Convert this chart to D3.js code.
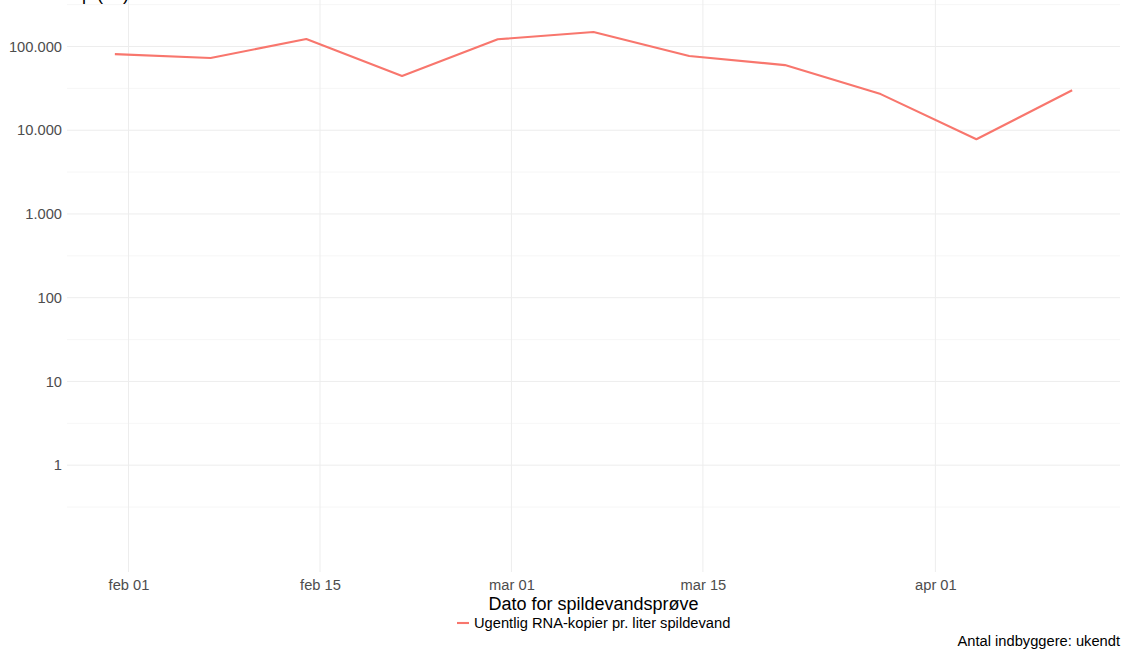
<!DOCTYPE html>
<meta charset="utf-8">
<style>

body { margin: 0; background: #fff; }
text { font-family: "Liberation Sans", Arial, sans-serif; }
.tick text { fill: #4d4d4d; font-size: 14.7px; }

</style>
<svg width="1125" height="655"></svg>
<script src="https://cdn.jsdelivr.net/npm/d3@7"></script>
<script>

// weekly samples (2023)
var sampleDates = ["2023-01-31", "2023-02-07", "2023-02-14", "2023-02-21", "2023-02-28",
                   "2023-03-07", "2023-03-14", "2023-03-21", "2023-03-28", "2023-04-04", "2023-04-11"];
var rnaCopies = [81000, 73000, 123000, 44500, 122000, 149000, 77000, 60000, 27000, 7800, 30000];

var yTicks = [1, 10, 100, 1000, 10000, 100000];
var yMinor = [0.316, 3.16, 31.6, 316, 3160, 31600, 316000];
var xTickDates = ["2023-02-01", "2023-02-15", "2023-03-01", "2023-03-15", "2023-04-01"];
var xTickLabels = ["feb 01", "feb 15", "mar 01", "mar 15", "apr 01"];

var seriesName = "Ugentlig RNA-kopier pr. liter spildevand";

var svg = d3.select("svg"),
    pLeft = 67, pRight = 1120, pTop = 2, pBottom = 572;

var parse = d3.utcParse("%Y-%m-%d");
var data = sampleDates.map(function(d, i) { return {date: parse(d), value: rnaCopies[i]}; });

// ggplot style 5% expansion on the date range
var ext = d3.extent(data, function(d) { return d.date; }),
    pad = (ext[1] - ext[0]) * 0.05;

var x = d3.scaleUtc()
    .domain([new Date(+ext[0] - pad), new Date(+ext[1] + pad)])
    .range([pLeft, pRight]);

var y = d3.scaleLog()
    .domain([0.053, 340000])
    .range([pBottom, pTop]);

var da = d3.formatLocale({decimal: ",", thousands: ".", grouping: [3], currency: ["", " kr"]});
var fmt = da.format(",d");

// grid
svg.append("g").selectAll("line")
  .data(yMinor)
  .enter().append("line")
    .attr("x1", pLeft).attr("x2", pRight)
    .attr("y1", function(d) { return y(d); })
    .attr("y2", function(d) { return y(d); })
    .attr("stroke", "#f4f4f4")
    .attr("stroke-width", 0.8);

svg.append("g").selectAll("line")
  .data(yTicks)
  .enter().append("line")
    .attr("x1", pLeft).attr("x2", pRight)
    .attr("y1", function(d) { return y(d); })
    .attr("y2", function(d) { return y(d); })
    .attr("stroke", "#ededed")
    .attr("stroke-width", 1);

svg.append("g").selectAll("line")
  .data(xTickDates.map(parse))
  .enter().append("line")
    .attr("x1", function(d) { return x(d); })
    .attr("x2", function(d) { return x(d); })
    .attr("y1", 0).attr("y2", pBottom)
    .attr("stroke", "#ededed")
    .attr("stroke-width", 1);

// axes
var yAxis = svg.append("g")
    .attr("transform", "translate(" + pLeft + ",0)")
    .call(d3.axisLeft(y).tickValues(yTicks).tickFormat(fmt).tickSize(0).tickPadding(5));
yAxis.select(".domain").remove();

var xAxis = svg.append("g")
    .attr("transform", "translate(0," + pBottom + ")")
    .call(d3.axisBottom(x).tickValues(xTickDates.map(parse))
      .tickFormat(function(d, i) { return xTickLabels[i]; })
      .tickSize(0).tickPadding(7.5));
xAxis.select(".domain").remove();

// line
svg.append("path")
    .datum(data)
    .attr("fill", "none")
    .attr("stroke", "#F8766D")
    .attr("stroke-width", 2.1)
    .attr("stroke-linejoin", "round")
    .attr("d", d3.line()
      .x(function(d) { return x(d.date); })
      .y(function(d) { return y(d.value); }));

// texts (title above is cut off by the frame, only descenders show)
svg.append("text")
    .attr("x", 17).attr("y", 0)
    .attr("font-size", 18)
    .text("Antal kop (10)");

svg.append("text")
    .attr("x", (pLeft + pRight) / 2).attr("y", 610)
    .attr("text-anchor", "middle")
    .attr("font-size", 18)
    .text("Dato for spildevandsprøve");

svg.append("line")
    .attr("x1", 457).attr("x2", 469)
    .attr("y1", 623).attr("y2", 623)
    .attr("stroke", "#F8766D")
    .attr("stroke-width", 2.1);

svg.append("text")
    .attr("x", 474).attr("y", 628)
    .attr("font-size", 14.7)
    .text(seriesName);

svg.append("text")
    .attr("x", pRight).attr("y", 646)
    .attr("text-anchor", "end")
    .attr("font-size", 14.7)
    .text("Antal indbyggere: ukendt");

</script>
